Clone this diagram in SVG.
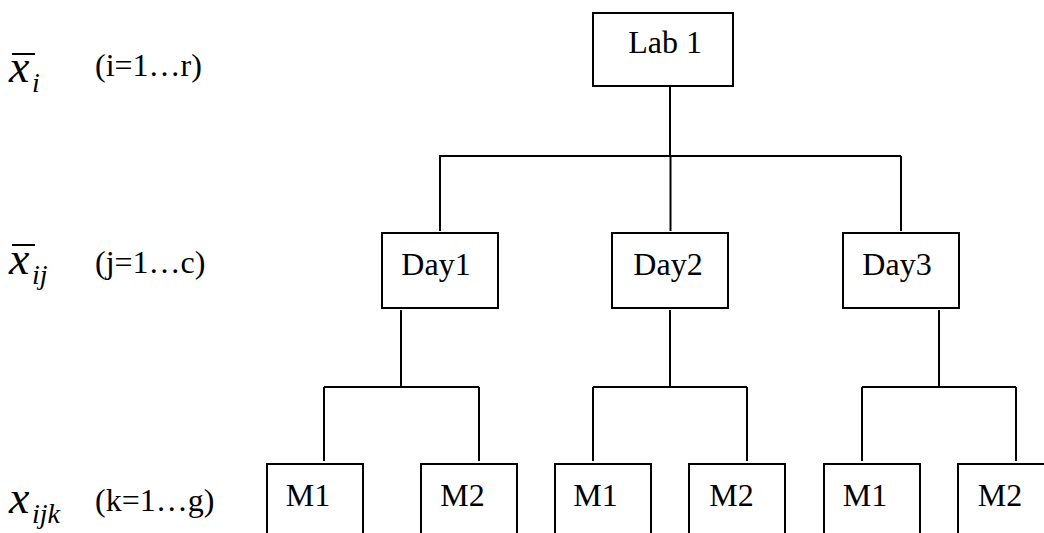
<svg xmlns="http://www.w3.org/2000/svg" width="1044" height="533" viewBox="0 0 1044 533">
<style>
.box{fill:#fff;stroke:#000;stroke-width:2}
.lbl{font-family:"Liberation Serif","Times New Roman",serif;font-size:32px;fill:#000;text-anchor:middle}
.cn{fill:none;stroke:#000;stroke-width:2}
.mx{font-family:"Liberation Serif","Times New Roman",serif;font-style:italic;font-size:46px;fill:#000}
.sb{font-family:"Liberation Serif","Times New Roman",serif;font-style:italic;font-size:28px;fill:#000}
.rg{font-family:"Liberation Serif","Times New Roman",serif;font-size:32px;fill:#000}
</style>
<g id="legend">
<line x1="12" y1="54" x2="35" y2="54" stroke="#000" stroke-width="2"/>
<text class="mx" x="9" y="82">x</text>
<text class="sb" x="32" y="92">i</text>
<text class="rg" x="95" y="76">(i=1…r)</text>
<line x1="12" y1="245" x2="35" y2="245" stroke="#000" stroke-width="2"/>
<text class="mx" x="9" y="274">x</text>
<text class="sb" x="32" y="284">ij</text>
<text class="rg" x="95" y="273">(j=1…c)</text>
<text class="mx" x="9" y="513">x</text>
<text class="sb" x="32" y="523">ijk</text>
<text class="rg" x="95" y="511">(k=1…g)</text>
</g>
<g id="connectors">
<path class="cn" d="M670,86V156M439,156H901M440,156V231M670.5,156V231M901,156V231"/>
<path class="cn" d="M401,310V387M324,387H479M324,387V461M479,387V461"/>
<path class="cn" d="M670,310V387M593,387H747M593,387V461M747,387V461"/>
<path class="cn" d="M939,310V387M862,387H1016M862,387V461M1016,387V461"/>
</g>
<g id="lab1"><rect class="box" x="593" y="13" width="140" height="73"/><text class="lbl" x="665" y="53">Lab 1</text></g>
<g id="day1"><rect class="box" x="382" y="233" width="116" height="75"/><text class="lbl" x="436" y="275">Day1</text></g>
<g id="day2"><rect class="box" x="612" y="233" width="116" height="75"/><text class="lbl" x="668" y="275">Day2</text></g>
<g id="day3"><rect class="box" x="843" y="233" width="116" height="75"/><text class="lbl" x="897" y="275">Day3</text></g>
<g id="d1m1"><rect class="box" x="267" y="464" width="96" height="90"/><text class="lbl" x="308" y="506">M1</text></g>
<g id="d1m2"><rect class="box" x="421" y="464" width="96" height="90"/><text class="lbl" x="462.5" y="506">M2</text></g>
<g id="d2m1"><rect class="box" x="555" y="464" width="96" height="90"/><text class="lbl" x="595.5" y="506">M1</text></g>
<g id="d2m2"><rect class="box" x="689" y="464" width="96" height="90"/><text class="lbl" x="731.5" y="506">M2</text></g>
<g id="d3m1"><rect class="box" x="824" y="464" width="96" height="90"/><text class="lbl" x="865" y="506">M1</text></g>
<g id="d3m2"><rect class="box" x="958" y="464" width="96" height="90"/><text class="lbl" x="1000" y="506">M2</text></g>
</svg>
